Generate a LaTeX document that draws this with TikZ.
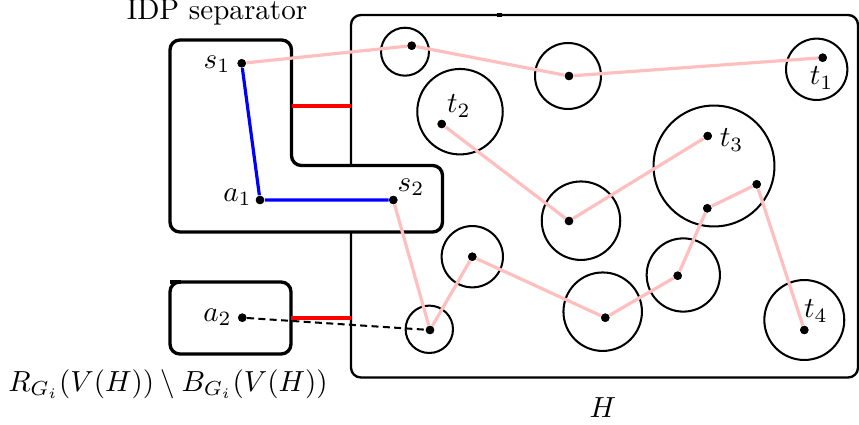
\documentclass[tikz,border=0pt]{standalone}
\usepackage{amsmath,amssymb}
\begin{document}
\begin{tikzpicture}[x=0.344pt,y=-0.344pt,
  dot/.style={circle,fill=black,inner sep=0pt,minimum size=2.9pt},
  ring/.style={circle,draw=black,line width=0.7pt,inner sep=0pt},
  region/.style={draw=black,fill=white,line width=1.15pt,rounded corners=3.4pt},
  hbox/.style={draw=black,line width=0.8pt,rounded corners=3.4pt},
  pinkpath/.style={draw=pink,line width=1.1pt},
  bluepath/.style={draw=blue,line width=1.1pt},
  redline/.style={draw=red,line width=1.2pt},
  dashline/.style={draw=black,line width=0.7pt,dash pattern=on 2.4pt off 1.5pt},
  lab/.style={inner sep=0pt}]
\useasboundingbox (0,0) rectangle (859,425);
% H box
\draw[hbox] (600,15) -- (858,15) -- (858,377.5) -- (351,377.5) -- (351,15) -- cycle;
\draw[line width=1.4pt] (497,15) -- (502,15);
% L-shaped region
\draw[region] (230,40) -- (291.5,40) -- (291.5,165.5) -- (442.5,165.5) -- (442.5,232) -- (170,232) -- (170,40) -- cycle;
% a2 box
\draw[region,fill=none] (230,282) -- (291,282) -- (291,354) -- (170,354) -- (170,282) -- cycle;
\draw[line width=1.3pt] (170,282) -- (181,282);
% circles
\node[ring,minimum size=16.5pt] (c1) at (405,51.7) {};
\node[ring,minimum size=22.7pt] (c2) at (568,76) {};
\node[ring,minimum size=21.1pt] (ct1) at (816.7,69.3) {};
\node[ring,minimum size=29.4pt] (ct2) at (460,111.7) {};
\node[ring,minimum size=27pt] (cmid) at (581,220.7) {};
\node[ring,minimum size=21.1pt] (csmall) at (472.3,256.7) {};
\node[ring,minimum size=27pt] (cbot) at (602.7,311.7) {};
\node[ring,minimum size=16.3pt] (cbl) at (429.3,329.3) {};
\node[ring,minimum size=41.6pt] (ct3) at (714,166) {};
\node[ring,minimum size=25.2pt] (c7) at (683.3,275) {};
\node[ring,minimum size=27.5pt] (ct4) at (804.3,320) {};
% red connectors
\coordinate (r1a) at (291.5,106);
\coordinate (r1b) at (351,106);
\coordinate (r2a) at (291,318);
\coordinate (r2b) at (351,318);
\draw[redline] (r1a) -- (r1b);
\draw[redline] (r2a) -- (r2b);
% dots
\node[dot] (s1) at (241.7,63.3) {};
\node[dot] (a1) at (260,200) {};
\node[dot] (s2) at (393.3,200) {};
\node[dot] (a2) at (242.3,317.7) {};
\node[dot] (d1) at (411.7,45.7) {};
\node[dot] (d2) at (569,76) {};
\node[dot] (t1) at (822.7,57.7) {};
\node[dot] (t2) at (441.7,124) {};
\node[dot] (dmid) at (569,221) {};
\node[dot] (t3) at (707.7,136) {};
\node[dot] (dbl) at (430,330) {};
\node[dot] (dsmall) at (472.3,256.7) {};
\node[dot] (dbot) at (605.3,317.7) {};
\node[dot] (d7) at (677.7,275.7) {};
\node[dot] (d8) at (707.3,208.3) {};
\node[dot] (d9) at (756.7,184.3) {};
\node[dot] (t4) at (804.3,330) {};
% paths
\draw[pinkpath] (s1) -- (d1) -- (d2) -- (t1);
\draw[pinkpath] (t2) -- (dmid) -- (t3);
\draw[pinkpath] (s2) -- (dbl) -- (dsmall) -- (dbot) -- (d7) -- (d8) -- (d9) -- (t4);
\draw[bluepath] (s1) -- (a1) -- (s2);
\draw[dashline] (a2) -- (dbl);
% redraw dots on top
\foreach \n in {s1,a1,s2,a2,d1,d2,t1,t2,dmid,t3,dbl,dsmall,dbot,d7,d8,d9,t4}
  \fill (\n) circle[radius=1.45pt];
% labels
\node[lab] (ls1) at (217,64) {$s_1$};
\node[lab] (la1) at (237.5,197) {$a_1$};
\node[lab] (ls2) at (411,187) {$s_2$};
\node[lab] (la2) at (217.5,317) {$a_2$};
\node[lab] (lt1) at (821.7,78) {$t_1$};
\node[lab] (lt2) at (459,106) {$t_2$};
\node[lab] (lt3) at (731.7,140) {$t_3$};
\node[lab] (lt4) at (816,311) {$t_4$};
\node[lab] (lidp) at (217,12) {IDP separator};
\node[lab] (lr) at (168,384) {$R_{G_i}(V(H))\setminus B_{G_i}(V(H))$};
\node[lab] (lh) at (603,408) {$H$};
\end{tikzpicture}
\end{document}
